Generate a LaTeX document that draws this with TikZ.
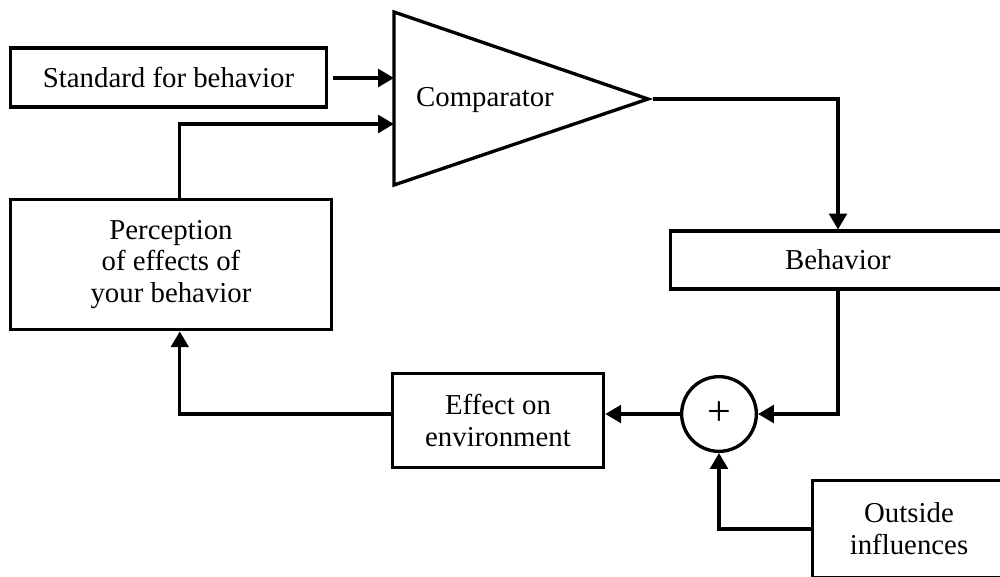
\documentclass[tikz,border=0pt]{standalone}
\usepackage{fontspec}
\setmainfont{Liberation Serif}
\usetikzlibrary{arrows.meta}

\begin{document}
\begin{tikzpicture}[x=0.02cm, y=-0.02cm,
        box/.style={draw, line width=1.9pt, align=center, inner sep=0pt,
                    font=\fontsize{16.4}{18.1}\selectfont},
        arr/.style={-{Triangle[length=9pt, width=10pt]}, line width=1.9pt}]
        % Frame
        \path[use as bounding box, clip] (0,0) rectangle (1000,576);
        \fill[white] (0,0) rectangle (1000,576);

        % Blocks
        \node (std) at (168.5,77.5) [box, minimum width=317*0.5669pt, minimum height=59*0.5669pt] {Standard for behavior};
        \node (perc) at (171,264.5) [box, minimum width=322*0.5669pt, minimum height=131*0.5669pt] {Perception\\of effects of\\your behavior};
        \node (beh) at (838,260) [box, minimum width=336*0.5669pt, minimum height=58*0.5669pt] {Behavior};
        \node (eff) at (498,420.5) [box, minimum width=212*0.5669pt, minimum height=95*0.5669pt] {Effect on\\environment};
        \node (out) at (909,529) [box, minimum width=194*0.5669pt, minimum height=98*0.5669pt] {Outside\\influences};
        \node (sum) at (719,414) [box, circle, minimum size=75*0.5669pt, font=\fontsize{24}{24}\selectfont] {+};

        % Comparator
        \coordinate (cmpin1) at (394,78);
        \coordinate (cmpin2) at (394,124);
        \coordinate (cmptip) at (648,99);
        \draw[line width=1.9pt, line join=miter] (394,12) -- (cmptip) -- (394,185) -- cycle;
        \node (cmp) at (485,100) [font=\fontsize{16.4}{18.1}\selectfont] {Comparator};

        % Connectors
        \draw[arr, shorten <=2.8pt] (std.east |- cmpin1) -- (cmpin1);
        \draw[arr] ([xshift=5pt]perc.north) |- (cmpin2);
        \draw[arr, shorten <=2.8pt] (cmptip) -| (beh.north);
        \draw[arr] (beh.south) |- (sum.east);
        \draw[arr] (sum.west) -- (sum.west -| eff.east);
        \draw[arr] (eff.west |- sum.west) -| ([xshift=5pt]perc.south);
        \draw[arr] (out.west) -| (sum.south);

        \end{tikzpicture}
\end{document}
